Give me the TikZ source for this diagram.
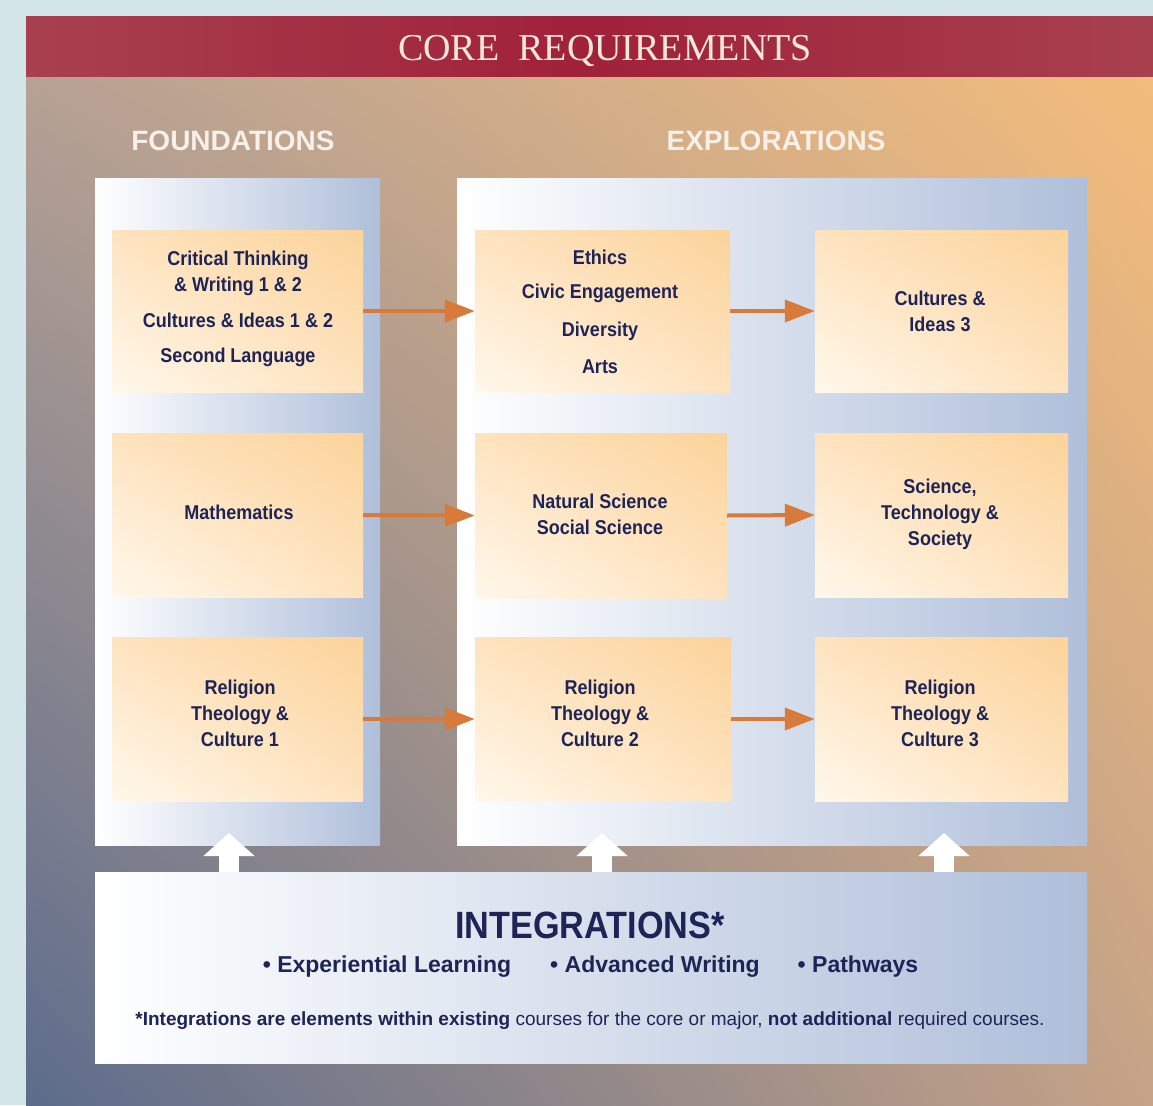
\documentclass[tikz,border=0pt]{standalone}
\usepackage{fontspec}
\setmainfont{Liberation Sans}
\newfontfamily\condfont[FakeStretch=0.9]{Liberation Sans}
\newfontfamily\titlefont{Liberation Serif}
\usetikzlibrary{arrows.meta,shadings}
\definecolor{navy}{HTML}{1E2456}
\definecolor{outer}{HTML}{D3E5E9}
\definecolor{bandred}{HTML}{A0213A}
\definecolor{bandedge}{HTML}{A8404F}
\definecolor{orangearrow}{HTML}{D87A3A}
\definecolor{peachhi}{HTML}{FCD39A}
\definecolor{peachmid}{HTML}{FEE3BF}
\definecolor{peachlo}{HTML}{FFF8EC}
\definecolor{panelblue}{HTML}{AFBFDA}
\definecolor{bgul}{HTML}{B6A194}
\definecolor{bgur}{HTML}{F3BC7C}
\definecolor{bgll}{HTML}{5C6C8C}
\definecolor{bglr}{HTML}{C6A387}
\definecolor{headwhite}{HTML}{F7F0EA}
\definecolor{titlecream}{HTML}{F5E7DA}
\tikzset{
  pbox/.style={shade, upper right=peachhi, upper left=peachmid, lower right=peachmid, lower left=peachlo, minimum width=252pt, minimum height=162pt, inner sep=0pt},
  panel/.style={shade, left color=white, right color=panelblue},
  boxtext/.style={font=\condfont\bfseries\fontsize{20}{26}\selectfont, text=navy, align=center, inner sep=0pt},
  heading/.style={font=\bfseries\fontsize{28}{32}\selectfont, text=headwhite, inner sep=0pt},
  bullettext/.style={font=\bfseries\fontsize{23}{26}\selectfont, text=navy, inner sep=0pt},
  oarrow/.style={draw=orangearrow, line width=4pt, -{Triangle[length=30pt,width=22pt]}},
  uparrow/.style={draw=white, line width=20pt, -{Triangle[length=23pt,width=50pt]}},
}
\begin{document}
\begin{tikzpicture}[x=1pt,y=-1pt]
\useasboundingbox (0,0) rectangle (1153,1105);
% outer background
\fill[outer] (0,0) rectangle (1153,1105);
% main background
\shade[upper left=bgul, upper right=bgur, lower left=bgll, lower right=bglr] (26,77) rectangle (1153,1105);
% red band
\shade[left color=bandedge, right color=bandedge, middle color=bandred] (26,17) rectangle (1153,77);
\node[font=\titlefont\fontsize{38}{42}\selectfont, text=titlecream, inner sep=0pt] (title) at (605,51) {CORE\ \ REQUIREMENTS};
% headings
\node[heading] (hf) at (233,141) {FOUNDATIONS};
\node[heading] (he) at (776,141) {EXPLORATIONS};
% panels
\shade[panel] (95,178) rectangle (380,845);
\shade[panel] (457,178) rectangle (1087,845);
\node[panel, minimum width=992pt, minimum height=191pt, inner sep=0pt] (integ) at (591,967.5) {};
% boxes
\node[pbox, minimum width=251pt] (f1) at (237.5,311) {};
\node[pbox, minimum width=255pt] (e11) at (602.5,311) {};
\node[pbox, minimum width=253pt] (e21) at (941.5,311) {};
\node[pbox, minimum width=251pt, minimum height=164pt] (f2) at (237.5,515) {};
\node[pbox, minimum width=252pt, minimum height=165pt] (e12) at (601,515.5) {};
\node[pbox, minimum width=253pt, minimum height=164pt] (e22) at (941.5,515) {};
\node[pbox, minimum width=251pt, minimum height=164pt] (f3) at (237.5,719) {};
\node[pbox, minimum width=256pt, minimum height=164pt] (e13) at (603,719) {};
\node[pbox, minimum width=253pt, minimum height=164pt] (e23) at (941.5,719) {};
% box texts
\node[boxtext] (f1t) at (238,309) {Critical Thinking\\ \& Writing 1 \& 2\\[10pt] Cultures \& Ideas 1 \& 2\\[9pt] Second Language};
\node[boxtext] (e11t) at (600,312) {Ethics\\[8pt] Civic Engagement\\[12pt] Diversity\\[11pt] Arts};
\node[boxtext] (e21t) at (940,311) {Cultures \&\\ Ideas 3};
\node[boxtext] (f2t) at (239,512) {Mathematics};
\node[boxtext] (e12t) at (600,514) {Natural Science\\ Social Science};
\node[boxtext] (e22t) at (940,514) {Science,\\ Technology \&\\ Society};
\node[boxtext] (f3t) at (240,713) {Religion\\ Theology \&\\ Culture 1};
\node[boxtext] (e13t) at (600,713) {Religion\\ Theology \&\\ Culture 2};
\node[boxtext] (e23t) at (940,713) {Religion\\ Theology \&\\ Culture 3};
% orange arrows
\draw[oarrow] (f1.east) -- (e11.west);
\draw[oarrow] (e11.east) -- (e21.west);
\draw[oarrow] (f2.east) -- (e12.west);
\draw[oarrow] (e12.east) -- (e22.west);
\draw[oarrow] (f3.east) -- (e13.west);
\draw[oarrow] (e13.east) -- (e23.west);
% white up arrows
\coordinate (a1) at (229,833);
\coordinate (a2) at (602,833);
\coordinate (a3) at (944,833);
\draw[uparrow] (integ.north -| a1) -- (a1);
\draw[uparrow] (integ.north -| a2) -- (a2);
\draw[uparrow] (integ.north -| a3) -- (a3);
% integrations text
\node[font=\condfont\bfseries\fontsize{38}{40}\selectfont, text=navy, inner sep=0pt] (it) at (590,925) {INTEGRATIONS*};
\node[bullettext] (b1) at (387,967) {\textbullet\ Experiential Learning};
\node[bullettext] (b2) at (655,967) {\textbullet\ Advanced Writing};
\node[bullettext] (b3) at (858,967) {\textbullet\ Pathways};
\node[font=\fontsize{19}{22}\selectfont, text=navy, inner sep=0pt] (fn) at (590,1021) {\textbf{*Integrations are elements within existing} courses for the core or major, \textbf{not additional} required courses.};
\end{tikzpicture}
\end{document}
